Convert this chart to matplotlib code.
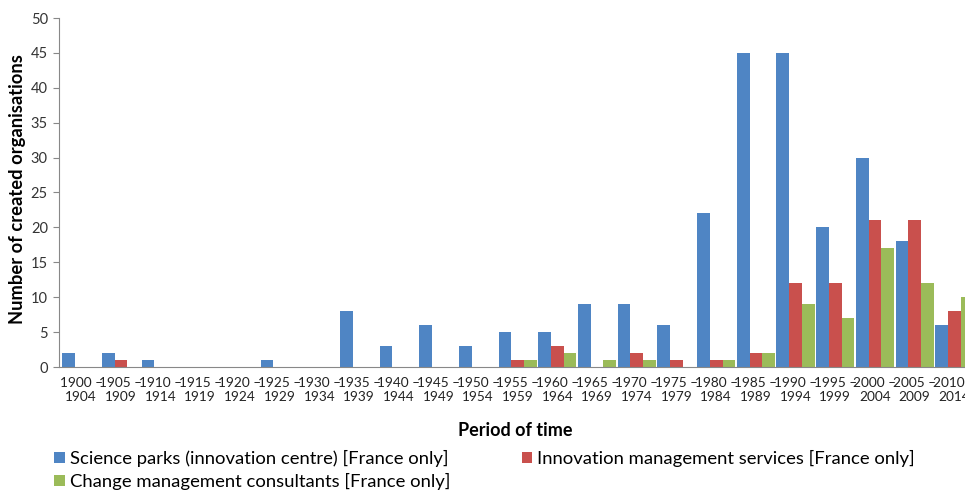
import numpy as np
import matplotlib
matplotlib.use("Agg")
import matplotlib.pyplot as plt

plt.rcParams['font.family'] = ['Lato', 'DejaVu Sans']

starts = list(range(1900, 2015, 5))
periods = ["%d –\n%d" % (s, s + 4) for s in starts]

science_parks = [2, 2, 1, 0, 0, 1, 0, 8, 3, 6, 3, 5, 5, 9, 9, 6, 22, 45, 45, 20, 30, 18, 6]
innovation_services = [0, 1, 0, 0, 0, 0, 0, 0, 0, 0, 0, 1, 3, 0, 2, 1, 1, 2, 12, 12, 21, 21, 8]
change_consultants = [0, 0, 0, 0, 0, 0, 0, 0, 0, 0, 0, 1, 2, 1, 1, 0, 1, 2, 9, 7, 17, 12, 10]

series_names = ["Science parks (innovation centre) [France only]",
                "Innovation management services [France only]",
                "Change management consultants [France only]"]
colors = ["#4F85C4", "#C9504D", "#9BBB59"]

W, H = 965, 490
fig = plt.figure(figsize=(W / 100, H / 100), dpi=100)
ax = fig.add_axes([59 / W, (H - 367) / H, (W - 59) / W, (367 - 18) / H])

x = np.arange(len(periods))
w = 0.32
handles = []
for k, (vals, col) in enumerate(zip([science_parks, innovation_services, change_consultants], colors)):
    b = ax.bar(x + (k - 1) * w, vals, width=w, color=col, linewidth=0)
    handles.append(b)

ax.set_xlim(-0.56, 22.27)
ax.set_ylim(0, 50)
ax.set_yticks(range(0, 51, 5))
ax.set_xticks(x)
ax.set_xticklabels(periods, fontsize=9.8, color="#222222", linespacing=1.25)
ax.tick_params(axis='x', length=0, pad=7)
ax.tick_params(axis='y', length=4, color="#888888", labelsize=10.5, labelcolor="#333333", pad=4)
for s in ['top', 'right']:
    ax.spines[s].set_visible(False)
ax.spines['left'].set_color("#888888")
ax.spines['bottom'].set_color("#888888")

fig.text(18 / W, 1 - 189 / H, "Number of created organisations", rotation=90,
         ha='center', va='center', fontsize=13.2, fontweight='bold')
fig.text(515 / W, 1 - 430 / H, "Period of time", ha='center', va='center',
         fontsize=13, fontweight='bold')

fig.legend([handles[0], handles[2], handles[1]],
           [series_names[0], series_names[2], series_names[1]],
           ncol=2, loc='upper left', bbox_to_anchor=(47 / W, 1 - 443 / H),
           frameon=False, fontsize=13.3, handlelength=0.55, handleheight=0.55,
           handletextpad=0.3, columnspacing=3.85, labelspacing=0.3, borderaxespad=0)

fig.savefig("out.png", dpi=100)
